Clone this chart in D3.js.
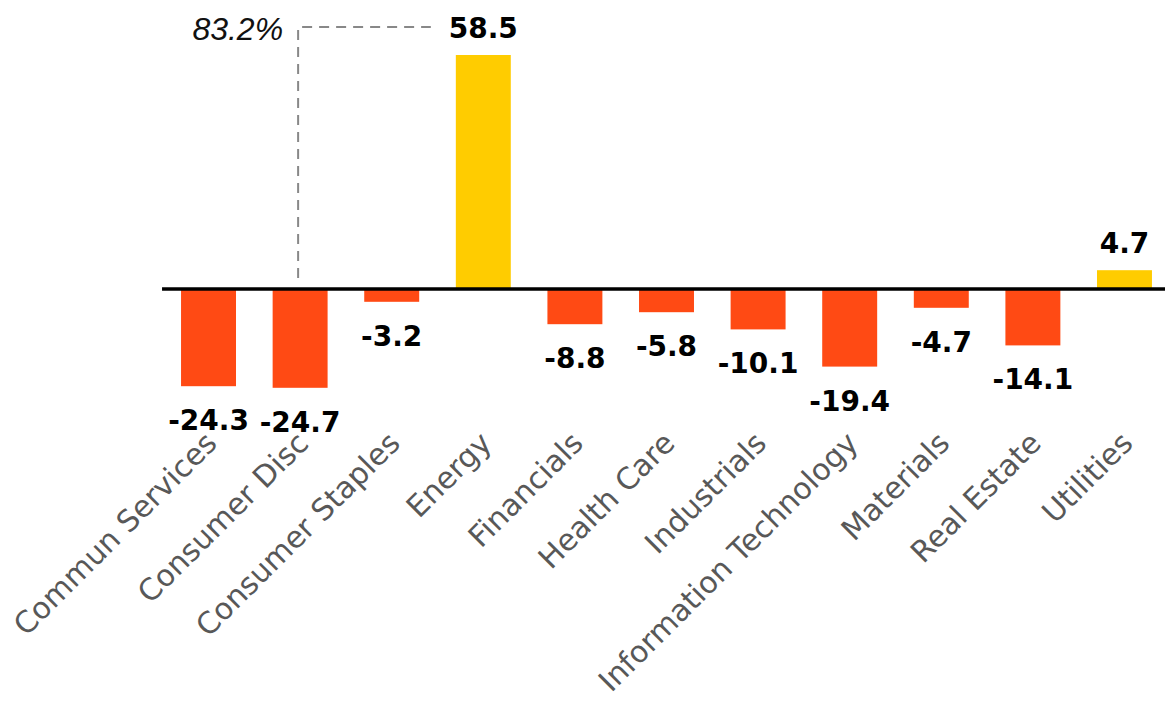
<!DOCTYPE html>
<html>
<head>
<meta charset="utf-8">
<script src="https://cdn.jsdelivr.net/npm/d3@7"></script>
<style>
  html, body { margin: 0; padding: 0; background: #fff; }
  svg { display: block; }
</style>
</head>
<body>
<script>
// sector returns, %
var sectors = ["Commun Services", "Consumer Disc", "Consumer Staples", "Energy", "Financials",
  "Health Care", "Industrials", "Information Technology", "Materials", "Real Estate", "Utilities"]
var returns = [-24.3, -24.7, -3.2, 58.5, -8.8, -5.8, -10.1, -19.4, -4.7, -14.1, 4.7]

// energy bar is cut off, real value shown with the dashed callout
var calloutLabel = "83.2%"
var calloutFrom = "Consumer Disc"
var calloutTo = "Energy"

var W = 1165, H = 705

var data = sectors.map(function(s, i) { return { name: s, v: returns[i] } })

var svg = d3.select("body").append("svg")
  .attr("width", W)
  .attr("height", H)

var x = d3.scaleBand()
  .domain(sectors)
  .range([144.4, 1188.6])
  .paddingInner(0.4)
  .paddingOuter(0.4)

var y = d3.scaleLinear()
  .domain([-30, 60])
  .range([409, 49])

var bw = x.bandwidth()

svg.selectAll("rect.bar")
  .data(data)
  .enter()
  .append("rect")
  .attr("class", "bar")
  .attr("x", function(d) { return x(d.name) })
  .attr("width", bw)
  .attr("y", function(d) { return d.v > 0 ? y(d.v) : y(0) })
  .attr("height", function(d) { return Math.abs(y(d.v) - y(0)) })
  .style("fill", function(d) { return d.v > 0 ? "#ffcc00" : "#ff4a14" })

// zero line
svg.append("line")
  .attr("x1", x(sectors[0]) - 19)
  .attr("x2", W)
  .attr("y1", y(0))
  .attr("y2", y(0))
  .attr("stroke", "#000")
  .attr("stroke-width", 3.5)

// value labels
svg.selectAll("text.val")
  .data(data)
  .enter()
  .append("text")
  .attr("class", "val")
  .attr("x", function(d) { return x(d.name) + bw / 2 })
  .attr("y", function(d) { return d.v > 0 ? y(d.v) - 17 : y(d.v) + 44 })
  .style("text-anchor", "middle")
  .style("font-family", "'DejaVu Sans', sans-serif")
  .style("font-weight", "bold")
  .style("font-size", "28px")
  .style("fill", "#000")
  .text(function(d) { return d.v.toFixed(1) })

// category labels
svg.selectAll("text.cat")
  .data(sectors)
  .enter()
  .append("text")
  .attr("class", "cat")
  .attr("transform", function(d) { return "translate(" + (x(d) + bw / 2 + 10) + ",445) rotate(-45)" })
  .style("text-anchor", "end")
  .style("font-family", "'DejaVu Sans', sans-serif")
  .style("font-size", "30px")
  .style("fill", "#585858")
  .text(function(d) { return d })

// callout
var cx = x(calloutFrom) + bw / 2 - 2
svg.append("path")
  .attr("d", "M" + cx + "," + (y(0) - 11) + "V27H" + (x(calloutTo) - 25))
  .attr("fill", "none")
  .attr("stroke", "#888")
  .attr("stroke-width", 2)
  .attr("stroke-dasharray", "10,7")

svg.append("text")
  .attr("x", cx - 15)
  .attr("y", 40)
  .style("text-anchor", "end")
  .style("font-family", "'Liberation Sans', Arial, sans-serif")
  .style("font-style", "italic")
  .style("font-size", "32px")
  .style("fill", "#111")
  .text(calloutLabel)
</script>
</body>
</html>
